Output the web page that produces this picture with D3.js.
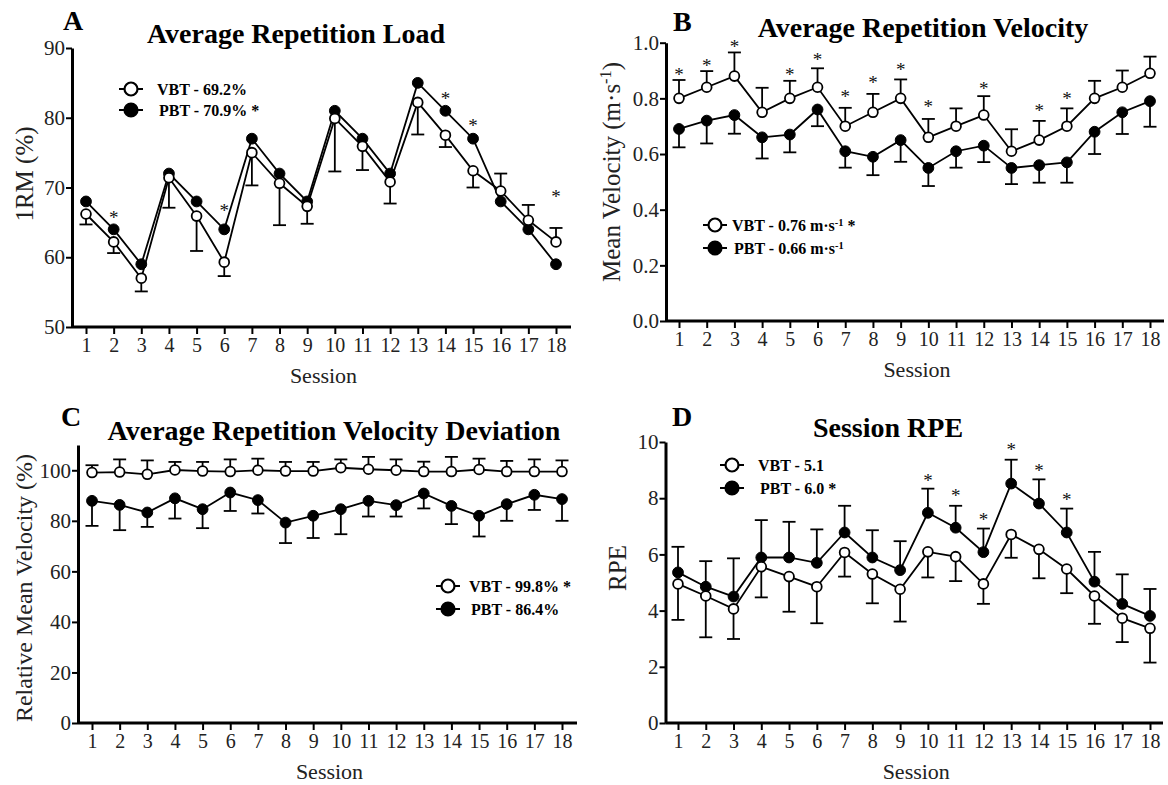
<!DOCTYPE html>
<html>
<head>
<meta charset="utf-8">
<script src="https://cdn.jsdelivr.net/npm/d3@7"></script>
<style>
  body { margin: 0; background: #fff; }
  svg text { font-family: "Liberation Serif", "Times New Roman", serif; }
</style>
</head>
<body>
<div id="application"></div>
<script>
// sessions on the x axis
var sessions = d3.range(1, 19);

// A - average repetition load (%1RM)
var loadVBT = [66.2, 62.2, 57.0, 71.4, 65.9, 59.3, 75.0, 70.6, 67.3, 79.9, 75.9, 70.8, 82.2, 77.5, 72.4, 69.5, 65.3, 62.2];
var loadVBTsd = [1.5, 1.6, 1.9, 4.3, 5.0, 2.0, 4.7, 6.0, 2.5, 7.6, 3.4, 3.1, 4.6, 1.7, 2.4, 2.5, 2.2, 2.0];
var loadVBTdir = [-1, -1, -1, -1, -1, -1, -1, -1, -1, -1, -1, -1, -1, -1, -1, 1, 1, 1];
var loadPBT = [68, 64, 59, 72, 68, 64, 77, 72, 68, 81, 77, 72, 85, 81, 77, 68, 64, 59];
var loadStarSessions = [2, 6, 14, 15, 18];
var loadStarValues = [66.1, 67.2, 83.2, 79.3, 69.1];
var loadTicks = [50, 60, 70, 80, 90];

// B - average repetition velocity (m/s)
var velVBT = [0.80, 0.84, 0.88, 0.75, 0.80, 0.84, 0.70, 0.75, 0.80, 0.66, 0.70, 0.74, 0.61, 0.65, 0.70, 0.80, 0.84, 0.89];
var velVBTsd = [0.066, 0.058, 0.085, 0.088, 0.063, 0.068, 0.066, 0.066, 0.068, 0.066, 0.064, 0.068, 0.079, 0.069, 0.064, 0.063, 0.060, 0.060];
var velPBT = [0.69, 0.72, 0.74, 0.66, 0.67, 0.76, 0.61, 0.59, 0.65, 0.55, 0.61, 0.63, 0.55, 0.56, 0.57, 0.68, 0.75, 0.79];
var velPBTsd = [0.066, 0.082, 0.067, 0.076, 0.064, 0.060, 0.059, 0.066, 0.078, 0.065, 0.059, 0.059, 0.058, 0.063, 0.073, 0.080, 0.078, 0.092];
var velStarSessions = [1, 2, 3, 5, 6, 7, 8, 9, 10, 12, 14, 15];
var velStarValues = [0.896, 0.929, 0.998, 0.896, 0.95, 0.816, 0.868, 0.914, 0.78, 0.848, 0.766, 0.81];
var velTicks = [0, 0.2, 0.4, 0.6, 0.8, 1.0];

// C - average repetition velocity deviation (% of target)
var devVBT = [99.1, 99.3, 98.4, 100.1, 99.7, 99.5, 100.0, 99.7, 99.7, 101.0, 100.4, 100.0, 99.5, 99.5, 100.3, 99.5, 99.5, 99.5];
var devVBTsd = [2.9, 5.0, 5.5, 3.2, 3.6, 4.8, 4.6, 3.6, 3.6, 3.3, 4.9, 4.3, 3.9, 5.8, 4.3, 4.2, 4.8, 4.4];
var devPBT = [87.9, 86.3, 83.3, 88.9, 84.6, 91.2, 88.2, 79.3, 82.0, 84.6, 87.9, 86.2, 90.8, 85.9, 82.0, 86.6, 90.3, 88.6];
var devPBTsd = [9.9, 10.0, 5.7, 8.0, 7.5, 7.3, 5.3, 8.1, 8.8, 9.9, 6.2, 4.5, 5.9, 7.2, 8.2, 6.6, 6.0, 8.6];
var devTicks = [0, 20, 40, 60, 80, 100];

// D - session RPE
var rpeVBT = [4.95, 4.52, 4.06, 5.56, 5.21, 4.85, 6.07, 5.30, 4.76, 6.09, 5.92, 4.95, 6.71, 6.18, 5.48, 4.52, 3.73, 3.37];
var rpeVBTsd = [1.28, 1.47, 1.07, 1.09, 1.25, 1.30, 0.86, 1.04, 1.15, 0.91, 0.87, 0.71, 0.83, 1.03, 0.86, 0.99, 0.85, 1.22];
var rpePBT = [5.36, 4.85, 4.50, 5.89, 5.89, 5.70, 6.78, 5.89, 5.44, 7.48, 6.95, 6.08, 8.52, 7.81, 6.78, 5.03, 4.24, 3.81];
var rpePBTsd = [0.91, 0.91, 1.36, 1.33, 1.27, 1.19, 0.95, 0.97, 1.03, 0.86, 0.78, 0.84, 0.85, 0.86, 0.85, 1.06, 1.05, 0.96];
var rpeStarSessions = [10, 11, 12, 13, 14, 15];
var rpeStarValues = [8.73, 8.19, 7.36, 9.85, 9.09, 8.05];
var rpeTicks = [0, 2, 4, 6, 8, 10];

var width = 1168;
var height = 785;

var svg = d3.select("#application")
  .append("svg")
  .attr("width", width)
  .attr("height", height);

function fill(v, n) {
  return d3.range(n).map(function() { return v; });
}

var panels = [
  {
    letter: "A", title: "Average Repetition Load",
    left: 72, first: 86, last: 556, end: 571, top: 48, bottom: 327,
    yDomain: [50, 90], yTicks: loadTicks, fmt: d3.format("d"),
    yLabel: [{ t: "1RM (%)" }], yLabelX: 24, yLabelY: 174, yLabelSize: 25,
    titleX: 296, titleY: 43, letterX: 63, letterY: 30,
    series: [
      { v: loadVBT, sd: loadVBTsd, dir: loadVBTdir, open: true },
      { v: loadPBT, sd: null, dir: null, open: false }
    ],
    starS: loadStarSessions, starV: loadStarValues,
    legend: { x: 131, y: 89, gap: 21, tx: 157,
      rows: [[{ t: "VBT - 69.2%" }], [{ t: "PBT - 70.9% *" }]] }
  },
  {
    letter: "B", title: "Average Repetition Velocity",
    left: 666, first: 679, last: 1150, end: 1164, top: 42.7, bottom: 321,
    yDomain: [0, 1], yTicks: velTicks, fmt: d3.format(".1f"),
    yLabel: [{ t: "Mean Velocity (m·s" }, { t: "-1", sup: true }, { t: ")" }], yLabelX: 611, yLabelY: 172, yLabelSize: 25,
    titleX: 923, titleY: 37, letterX: 673, letterY: 31,
    series: [
      { v: velVBT, sd: velVBTsd, dir: fill(1, 18), open: true },
      { v: velPBT, sd: velPBTsd, dir: fill(-1, 18), open: false }
    ],
    starS: velStarSessions, starV: velStarValues,
    legend: { x: 715, y: 225, gap: 23, tx: 732,
      rows: [[{ t: "VBT - 0.76 m·s" }, { t: "-1", sup: true }, { t: "  *" }],
             [{ t: "PBT - 0.66 m·s" }, { t: "-1", sup: true }]] }
  },
  {
    letter: "C", title: "Average Repetition Velocity Deviation",
    left: 78, first: 92, last: 562, end: 577, top: 445, bottom: 723,
    yDomain: [0, 110], yTicks: devTicks, fmt: d3.format("d"),
    yLabel: [{ t: "Relative Mean Velocity (%)" }], yLabelX: 24, yLabelY: 588, yLabelSize: 24,
    titleX: 334, titleY: 440, letterX: 61, letterY: 426,
    series: [
      { v: devVBT, sd: devVBTsd, dir: fill(1, 18), open: true },
      { v: devPBT, sd: devPBTsd, dir: fill(-1, 18), open: false }
    ],
    starS: [], starV: [],
    legend: { x: 448, y: 586, gap: 23, tx: 469,
      rows: [[{ t: "VBT - 99.8% *" }], [{ t: "PBT - 86.4%" }]] }
  },
  {
    letter: "D", title: "Session RPE",
    left: 665.5, first: 678, last: 1150, end: 1163, top: 442, bottom: 723,
    yDomain: [0, 10], yTicks: rpeTicks, fmt: d3.format("d"),
    yLabel: [{ t: "RPE" }], yLabelX: 617, yLabelY: 568, yLabelSize: 25,
    titleX: 888, titleY: 437, letterX: 672, letterY: 426,
    series: [
      { v: rpeVBT, sd: rpeVBTsd, dir: fill(-1, 18), open: true },
      { v: rpePBT, sd: rpePBTsd, dir: fill(1, 18), open: false }
    ],
    starS: rpeStarSessions, starV: rpeStarValues,
    legend: { x: 732, y: 465, gap: 23, tx: 758,
      rows: [[{ t: "VBT - 5.1" }], [{ t: "PBT - 6.0 *" }]] }
  }
];

function addRich(sel, parts, size) {
  parts.forEach(function(p) {
    var ts = sel.append("tspan").text(p.t);
    if (p.sup) {
      ts.attr("baseline-shift", "super").style("font-size", (size * 0.65) + "px");
    }
  });
}

panels.forEach(function(p) {
  var g = svg.append("g");

  // session 1 and 18 land on p.first / p.last, the axis runs from p.left to p.end
  var x = d3.scaleLinear()
    .domain([1, 18])
    .range([p.first, p.last]);
  var y = d3.scaleLinear()
    .domain(p.yDomain)
    .range([p.bottom, p.top]);

  // axes
  var yAx = g.append("g")
    .attr("transform", "translate(" + p.left + ",0)")
    .call(d3.axisLeft(y).tickValues(p.yTicks).tickFormat(p.fmt).tickSize(6).tickSizeOuter(0).tickPadding(1));
  var xAx = g.append("g")
    .attr("transform", "translate(0," + p.bottom + ")")
    .call(d3.axisBottom(x).tickValues(sessions).tickSize(7).tickSizeOuter(0).tickPadding(4));
  xAx.select(".domain").attr("d", "M" + p.left + ",0H" + p.end);

  [yAx, xAx].forEach(function(a) {
    a.select(".domain").attr("stroke", "#000").attr("stroke-width", 3);
    a.selectAll(".tick line").attr("stroke", "#000").attr("stroke-width", 2);
    a.selectAll(".tick text").attr("fill", "#222");
  });
  yAx.selectAll(".tick text").style("font-size", "21px");
  xAx.selectAll(".tick text").style("font-size", "20px");

  // titles
  g.append("text")
    .attr("x", p.letterX).attr("y", p.letterY)
    .style("font-size", "28px").style("font-weight", "bold")
    .text(p.letter);
  g.append("text")
    .attr("x", p.titleX).attr("y", p.titleY)
    .attr("text-anchor", "middle")
    .style("font-size", "28px").style("font-weight", "bold")
    .text(p.title);

  // axis labels
  g.append("text")
    .attr("x", (p.left + p.end) / 2 + 2).attr("y", p.bottom + 56)
    .attr("text-anchor", "middle")
    .attr("fill", "#222")
    .style("font-size", "22px")
    .text("Session");
  var yl = g.append("text")
    .attr("transform", "translate(" + p.yLabelX + "," + p.yLabelY + ") rotate(-90)")
    .attr("text-anchor", "middle")
    .attr("dy", "0.35em")
    .attr("fill", "#222")
    .style("font-size", p.yLabelSize + "px");
  addRich(yl, p.yLabel, p.yLabelSize);

  var line = d3.line()
    .x(function(d, i) { return x(sessions[i]); })
    .y(function(d) { return y(d); });

  // lines
  p.series.forEach(function(s) {
    g.append("path")
      .datum(s.v)
      .attr("d", line)
      .attr("fill", "none")
      .attr("stroke", "#000")
      .attr("stroke-width", 1.8);
  });

  // error bars (one-sided)
  p.series.forEach(function(s) {
    if (!s.sd) return;
    var eb = g.append("g").selectAll("g")
      .data(s.v)
      .enter()
      .append("g");
    eb.append("line")
      .attr("x1", function(d, i) { return x(sessions[i]); })
      .attr("x2", function(d, i) { return x(sessions[i]); })
      .attr("y1", function(d) { return y(d); })
      .attr("y2", function(d, i) { return y(d + s.dir[i] * s.sd[i]); })
      .attr("stroke", "#000").attr("stroke-width", 1.8);
    eb.append("line")
      .attr("x1", function(d, i) { return x(sessions[i]) - 6.5; })
      .attr("x2", function(d, i) { return x(sessions[i]) + 6.5; })
      .attr("y1", function(d, i) { return y(d + s.dir[i] * s.sd[i]); })
      .attr("y2", function(d, i) { return y(d + s.dir[i] * s.sd[i]); })
      .attr("stroke", "#000").attr("stroke-width", 1.8);
  });

  // markers, filled first so open circles sit on top
  p.series.slice().reverse().forEach(function(s) {
    g.append("g").selectAll("circle")
      .data(s.v)
      .enter()
      .append("circle")
      .attr("cx", function(d, i) { return x(sessions[i]); })
      .attr("cy", function(d) { return y(d); })
      .attr("r", s.open ? 4.9 : 5.4)
      .attr("fill", s.open ? "#fff" : "#000")
      .attr("stroke", "#000")
      .attr("stroke-width", s.open ? 1.8 : 1);
  });

  // significance marks
  g.append("g").selectAll("text")
    .data(p.starS)
    .enter()
    .append("text")
    .attr("x", function(d) { return x(d); })
    .attr("y", function(d, i) { return y(p.starV[i]); })
    .attr("dy", "0.5em")
    .attr("text-anchor", "middle")
    .attr("fill", "#111")
    .style("font-size", "19px")
    .text("*");

  // legend
  var lg = g.append("g");
  p.legend.rows.forEach(function(row, i) {
    var ly = p.legend.y + i * p.legend.gap;
    lg.append("line")
      .attr("x1", p.legend.x - 12).attr("x2", p.legend.x + 12)
      .attr("y1", ly).attr("y2", ly)
      .attr("stroke", "#000").attr("stroke-width", 2);
    lg.append("circle")
      .attr("cx", p.legend.x).attr("cy", ly)
      .attr("r", 6.5)
      .attr("fill", i === 0 ? "#fff" : "#000")
      .attr("stroke", "#000").attr("stroke-width", 2.2);
    var t = lg.append("text")
      .attr("x", p.legend.tx + (i === 0 ? 0 : 2)).attr("y", ly)
      .attr("dy", "0.35em")
      .style("font-size", "16px").style("font-weight", "bold");
    addRich(t, row, 16);
  });
});
</script>
</body>
</html>
